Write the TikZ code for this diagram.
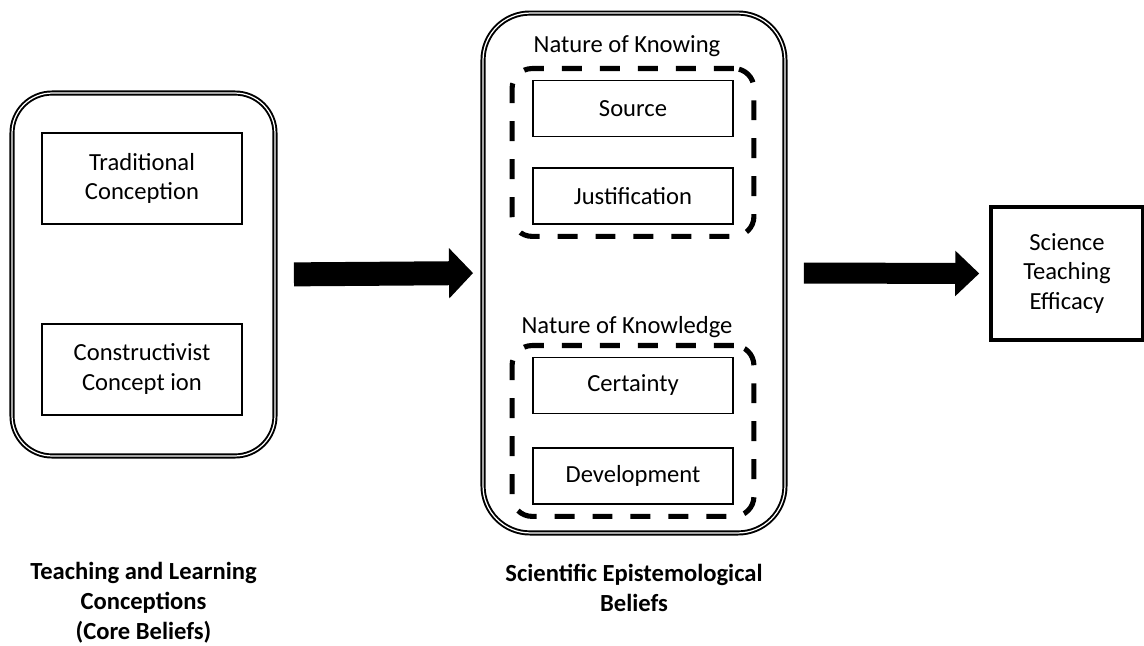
\documentclass[tikz,border=0pt]{standalone}
\usepackage{fontspec}
\setmainfont{Carlito}
\usetikzlibrary{positioning,fit,arrows.meta}

\newcommand{\boxfont}{\fontsize{14pt}{17pt}\selectfont}

\tikzset{
  concept/.style={draw, line width=1.1pt, minimum width=4cm, minimum height=1.12cm,
    align=center, inner sep=0pt},
  group/.style={draw, double, line width=1.1pt, double distance=0.7pt},
  subgroup/.style={draw, line width=2.9pt, dash pattern=on 0.4cm off 0.36cm,
    rounded corners=0.4cm, inner sep=0pt},
  bigarrow/.style 2 args={line width=#1, -{Triangle[length=0.48cm, width=#2]}},
  caption/.style={font=\boxfont\bfseries, align=center, inner sep=0pt},
}

\begin{document}
\begin{tikzpicture}[x=0.02cm,y=-0.02cm,font=\boxfont]
  \useasboundingbox (0,0) rectangle (1144,646);

  % Core beliefs (left)
  \node[group, rounded corners=0.8cm, minimum width=5.26cm, minimum height=7.26cm]
    (tlc) at (143.5,274.5) {};
  \node[concept, minimum height=1.82cm] (trad) at (142,178.5) {Traditional\\Conception};
  \node[concept, minimum height=1.82cm, below=1.96cm of trad] (cons) {Constructivist\\Concept ion};

  % Epistemological beliefs (middle)
  \node[group, rounded corners=0.94cm, minimum width=6.04cm, minimum height=10.4cm]
    (seb) at (634,273) {};
  \node[concept] (src) at (633,108.5) {Source};
  \node[concept, below=0.6cm of src] (jus) {Justification};
  \node[concept] (cer) at (633,385.5) {Certainty};
  \node[concept, below=0.66cm of cer] (dev) {Development};
  \node[subgroup, fit=(src)(jus), inner xsep=0.4cm, inner ysep=0.22cm] (knowing) {};
  \node[subgroup, fit=(cer)(dev), inner xsep=0.4cm, inner ysep=0.22cm] (knowledge) {};
  \node[anchor=base] (knowinglab) at (627,52) {Nature of Knowing};
  \node[anchor=base] (knowledgelab) at (627,333) {Nature of Knowledge};

  % Outcome (right)
  \node[draw, line width=2pt, minimum width=3.04cm, minimum height=2.66cm, align=center]
    (ste) at (1067,273.5) {Science\\Teaching\\Efficacy};

  % Arrows between the groups
  \draw[bigarrow={0.48cm}{0.98cm}, shorten <=0.36cm, shorten >=0.18cm] (tlc.east) -- (seb.west);
  \draw[bigarrow={0.42cm}{0.88cm}, shorten <=0.36cm, shorten >=0.2cm] (seb.east) -- (ste.west);

  % Captions
  \node[caption, below=2.1cm of tlc] (tlclab) {Teaching and Learning\\Conceptions\\(Core Beliefs)};
  \node[caption, below=0.6cm of seb] (seblab) {Scientific Epistemological\\Beliefs};
\end{tikzpicture}
\end{document}
